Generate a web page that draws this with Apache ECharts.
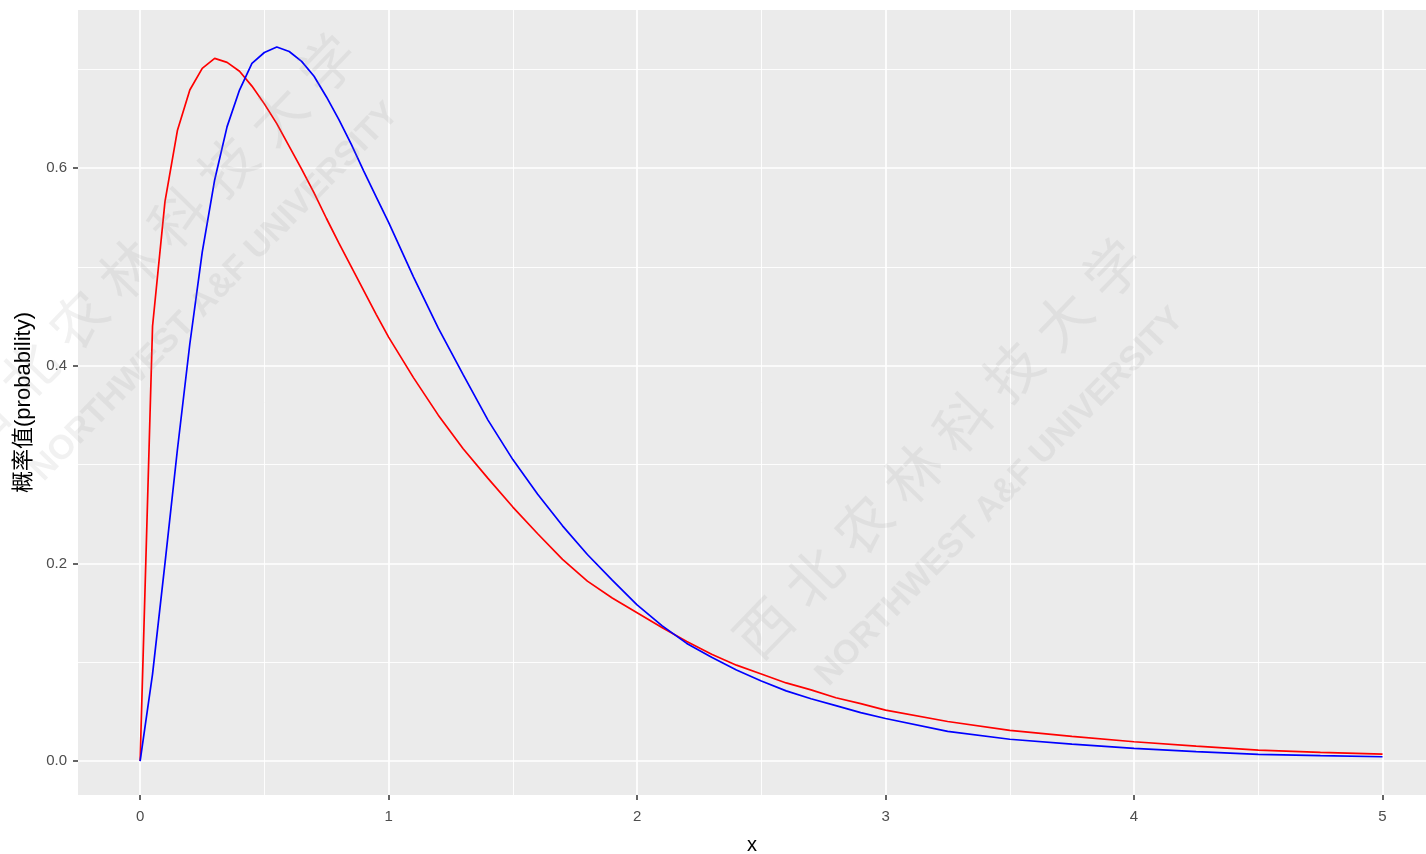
<!DOCTYPE html>
<html>
<head>
<meta charset="utf-8">
<script src="https://cdn.jsdelivr.net/npm/echarts@6/dist/echarts.min.js"></script>
<style>html,body{margin:0;padding:0;background:#fff}#c{width:1426px;height:854px}</style>
</head>
<body>
<div id="c"></div>
<script>
// ---- data ----
const xs    = [0, 0.05, 0.1, 0.15, 0.2, 0.25, 0.3, 0.35, 0.4, 0.45, 0.5, 0.55, 0.6, 0.65, 0.7, 0.75, 0.8, 0.85, 0.9, 0.95, 1.0,
               1.1, 1.2, 1.3, 1.4, 1.5, 1.6, 1.7, 1.8, 1.9, 2.0, 2.1, 2.2, 2.3, 2.4, 2.5, 2.6, 2.7, 2.8, 2.9, 3.0,
               3.25, 3.5, 3.75, 4.0, 4.25, 4.5, 4.75, 5.0];
const redY  = [0, 0.44, 0.566, 0.638, 0.679, 0.701, 0.711, 0.707, 0.698, 0.683, 0.665, 0.645, 0.622, 0.599, 0.575, 0.549, 0.524, 0.500, 0.476, 0.452, 0.429,
               0.388, 0.350, 0.316, 0.286, 0.257, 0.230, 0.204, 0.182, 0.165, 0.150, 0.135, 0.121, 0.108, 0.097, 0.088, 0.079, 0.072, 0.064, 0.058, 0.0515,
               0.040, 0.031, 0.025, 0.0195, 0.015, 0.011, 0.0088, 0.007];
const blueY = [0, 0.088, 0.200, 0.315, 0.422, 0.515, 0.588, 0.642, 0.679, 0.706, 0.717, 0.7225, 0.718, 0.708, 0.693, 0.672, 0.649, 0.624, 0.597, 0.571, 0.545,
               0.490, 0.438, 0.391, 0.345, 0.305, 0.270, 0.238, 0.209, 0.183, 0.158, 0.137, 0.119, 0.105, 0.092, 0.081, 0.071, 0.063, 0.056, 0.049, 0.043,
               0.030, 0.022, 0.017, 0.0128, 0.0095, 0.0068, 0.0054, 0.0043];
const xTicks = [0, 1, 2, 3, 4, 5];
const xMinor = [0.5, 1.5, 2.5, 3.5, 4.5];
const yTicks = [0, 0.2, 0.4, 0.6];
const yMinor = [0.1, 0.3, 0.5, 0.7];
const xTitle = 'x';
const yTitle = '概率值(probability)';
const watermarkCN = '西 北 农 林 科 技 大 学';
const watermarkEN = 'NORTHWEST A&F UNIVERSITY';

const FONT = "'Liberation Sans', Arial, 'Noto Sans CJK SC', sans-serif";
const chart = echarts.init(document.getElementById('c'), null, {renderer: 'canvas'});

const pair = (xv, yv) => xv.map((x, i) => [x, yv[i]]);
const major = {color: '#FFFFFF', width: 1.7, type: 'solid'};
const minor = {color: '#FFFFFF', width: 0.9, type: 'solid'};
const gridLines = [].concat(
  xTicks.map(v => ({xAxis: v, lineStyle: major})),
  xMinor.map(v => ({xAxis: v, lineStyle: minor})),
  yTicks.map(v => ({yAxis: v, lineStyle: major})),
  yMinor.map(v => ({yAxis: v, lineStyle: minor}))
);

function wm(x, y, text, size, weight) {
  return {
    type: 'text', x: x, y: y, rotation: 0.80, z: 100, silent: true,
    style: {text: text, fill: 'rgba(150,150,150,0.13)', font: weight + ' ' + size + 'px ' + FONT,
            textAlign: 'center', textVerticalAlign: 'middle'}
  };
}

chart.setOption({
  animation: false,
  backgroundColor: '#FFFFFF',
  textStyle: {fontFamily: FONT},
  grid: {left: 78, right: 0, top: 10, bottom: 59, show: true, backgroundColor: '#EBEBEB', borderWidth: 0,
         containLabel: false, outerBoundsMode: 'none'},
  xAxis: {
    type: 'value', min: -0.25, max: 5.175,
    name: xTitle, nameLocation: 'middle', nameGap: 40,
    nameTextStyle: {color: '#000000', fontSize: 20, fontFamily: FONT},
    axisLine: {show: false, onZero: false},
    axisTick: {show: true, inside: false, length: 5, lineStyle: {color: '#333333', width: 1.5}, customValues: xTicks},
    axisLabel: {color: '#4D4D4D', fontSize: 15, margin: 14, customValues: xTicks, formatter: v => String(v), fontFamily: FONT},
    splitLine: {show: false}, minorSplitLine: {show: false}
  },
  yAxis: {
    type: 'value', min: -0.0344, max: 0.760,
    name: yTitle, nameLocation: 'middle', nameGap: 34,
    nameTextStyle: {color: '#000000', fontSize: 22, fontFamily: FONT},
    axisLine: {show: false, onZero: false},
    axisTick: {show: true, inside: false, length: 5, lineStyle: {color: '#333333', width: 1.5}, customValues: yTicks},
    axisLabel: {color: '#4D4D4D', fontSize: 15, margin: 11, customValues: yTicks, formatter: v => v.toFixed(1), fontFamily: FONT},
    splitLine: {show: false}, minorSplitLine: {show: false}
  },
  series: [
    {type: 'line', name: 'grid', data: [], z: 1, silent: true,
     markLine: {silent: true, z: 1, symbol: ['none', 'none'], label: {show: false}, emphasis: {disabled: true}, data: gridLines, animation: false}},
    {type: 'line', name: 'red', data: pair(xs, redY), showSymbol: false, smooth: false, z: 3,
     lineStyle: {color: '#FF0000', width: 1.7}, itemStyle: {color: '#FF0000'}},
    {type: 'line', name: 'blue', data: pair(xs, blueY), showSymbol: false, smooth: false, z: 4,
     lineStyle: {color: '#0000FF', width: 1.7}, itemStyle: {color: '#0000FF'}}
  ],
  graphic: [
    wm(157, 247, watermarkCN, 56, 'normal'),
    wm(215, 292, watermarkEN, 34, 'bold'),
    wm(942, 452, watermarkCN, 56, 'normal'),
    wm(1000, 497, watermarkEN, 34, 'bold')
  ]
});
</script>
</body>
</html>
